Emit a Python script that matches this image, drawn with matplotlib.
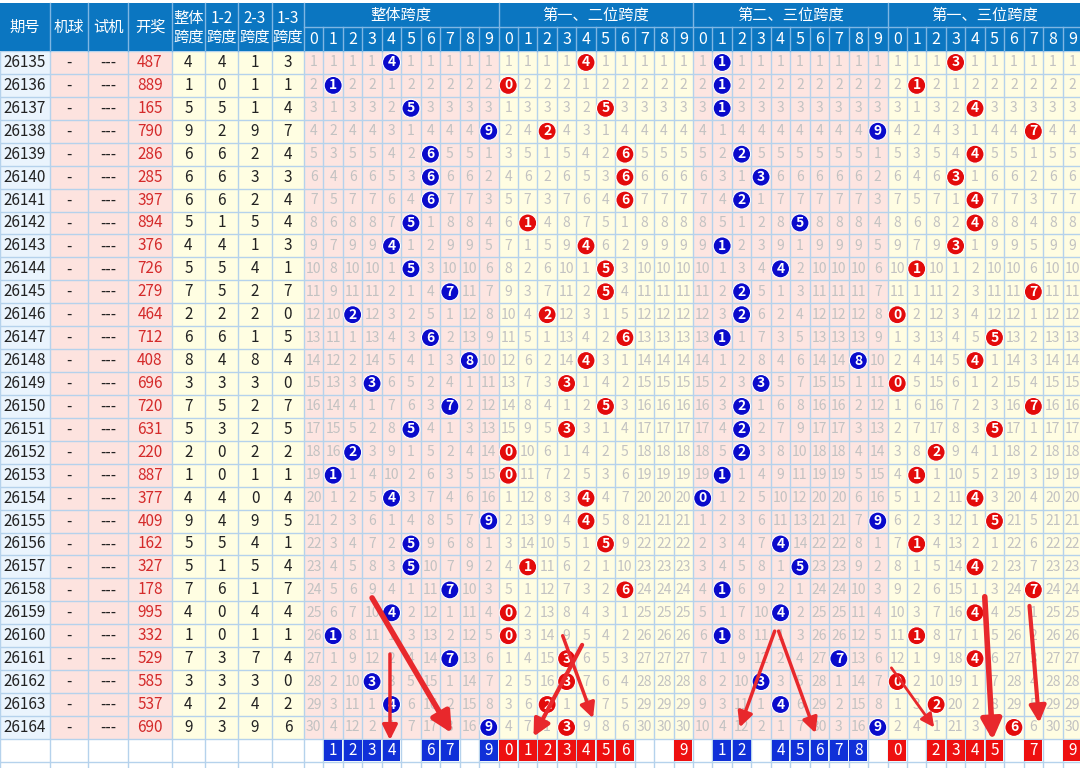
import numpy as np
import matplotlib
matplotlib.use('Agg')
import matplotlib.pyplot as plt
from matplotlib.patches import Rectangle, Circle

plt.rcParams['font.family'] = ['Noto Sans CJK SC', 'DejaVu Sans']

# ---- data ----
issues = list(range(26135, 26165))
draws = ['487', '889', '165', '790', '286', '285', '397', '894', '376', '726',
         '279', '464', '712', '408', '696', '720', '631', '220', '887', '377',
         '409', '162', '327', '178', '995', '332', '529', '585', '537', '690']
span_all = [4, 1, 5, 9, 6, 6, 6, 5, 4, 5, 7, 2, 6, 8, 3, 7, 5, 2, 1, 4, 9, 5, 5, 7, 4, 1, 7, 3, 4, 9]
span_12 = [4, 0, 5, 2, 6, 6, 6, 1, 4, 5, 5, 2, 6, 4, 3, 5, 3, 0, 0, 4, 4, 5, 1, 6, 0, 0, 3, 3, 2, 3]
span_23 = [1, 1, 1, 9, 2, 3, 2, 5, 1, 4, 2, 2, 1, 8, 3, 2, 2, 2, 1, 0, 9, 4, 5, 1, 4, 1, 7, 3, 4, 9]
span_13 = [3, 1, 4, 7, 4, 3, 4, 4, 3, 1, 7, 0, 5, 4, 0, 7, 5, 2, 1, 4, 5, 1, 4, 7, 4, 1, 4, 0, 2, 6]

picks_all = [1, 2, 3, 4, 6, 7, 9]
picks_12 = [0, 1, 2, 3, 4, 5, 6, 9]
picks_23 = [1, 2, 4, 5, 6, 7, 8]
picks_13 = [0, 2, 3, 4, 5, 7, 9]

group_titles = ['整体跨度', '第一、二位跨度', '第二、三位跨度', '第一、三位跨度']
left_headers = ['期号', '机球', '试机', '开奖', '整体\n跨度', '1-2\n跨度', '2-3\n跨度', '1-3\n跨度']

# hand drawn arrows: (grid col, row) start -> end, line width
arrows = [((4.42, 26.3), (4.42, 30.05), 2.5),
          ((3.5, 23.85), (7.6, 29.75), 4),
          ((14.3, 25.9), (11.8, 29.9), 3),
          ((13.3, 25.5), (14.86, 29.1), 2.5),
          ((24.2, 25.3), (22.4, 29.5), 2.5),
          ((24.4, 25.3), (26.3, 29.75), 2.5),
          ((30.2, 26.9), (32.4, 29.5), 2),
          ((35.0, 23.8), (35.4, 30.05), 4),
          ((37.3, 24.2), (37.8, 29.3), 3)]

# ---- layout ----
W, H = 1080, 768
col_edges = [0, 50, 88, 128, 172, 205, 238, 272, 304]
gx0, cw = 304, 19.45
top, mid, hdr, rh = 3, 27, 51, 22.93
n = len(issues)

header_blue = '#0b76c1'
grid_col = '#b5d2ec'
pink = '#fde5e1'
yellow = '#fffde2'
ball_cols = ['#0a0acb', '#e30b0b', '#0a0acb', '#e30b0b']
pick_cols = ['#1030d8', '#ee1010', '#1030d8', '#ee1010']

fig = plt.figure(figsize=(10.8, 7.68), dpi=100)
ax = fig.add_axes([0, 0, 1, 1])
ax.set_xlim(0, W)
ax.set_ylim(H, 0)
ax.axis('off')

def ry(i):
    return hdr + i * rh

# left column backgrounds
left_bg = ['#eaf4fd', '#fde3df', '#fde3df', '#fde3df', '#fffee2', '#fffee2', '#fffee2', '#fffee2']
for k, c in enumerate(left_bg):
    ax.add_patch(Rectangle((col_edges[k], hdr), col_edges[k + 1] - col_edges[k], n * rh,
                           facecolor=c, edgecolor='none'))
# group backgrounds
for g in range(4):
    ax.add_patch(Rectangle((gx0 + g * 10 * cw, hdr), 10 * cw, n * rh,
                           facecolor=[pink, yellow][g % 2], edgecolor='none'))

# grid lines
for i in range(n + 3):
    ax.plot([0, W], [ry(i), ry(i)], color=grid_col, lw=1, zorder=1)
vlines = col_edges + [gx0 + j * cw for j in range(1, 41)]
for x in vlines:
    ax.plot([x, x], [hdr, H], color=grid_col, lw=1, zorder=1)

# header
ax.add_patch(Rectangle((0, top), W, hdr - top, facecolor=header_blue, edgecolor='none', zorder=2))
for x in col_edges[1:]:
    ax.plot([x, x], [top, hdr], color='#7fb6e3', lw=1, zorder=3)
ax.plot([gx0, W], [mid, mid], color='#7fb6e3', lw=1, zorder=3)
for j in range(1, 41):
    x = gx0 + j * cw
    y0 = top if j % 10 == 0 else mid
    ax.plot([x, x], [y0, hdr], color='#7fb6e3', lw=1, zorder=3)
for k, t in enumerate(left_headers):
    xc = (col_edges[k] + col_edges[k + 1]) / 2
    ax.text(xc, (top + hdr) / 2 + 0.5, t, color='white', fontsize=11, ha='center', va='center',
            linespacing=1.15, zorder=4)
for g, t in enumerate(group_titles):
    ax.text(gx0 + (g * 10 + 5) * cw, (top + mid) / 2, t, color='white', fontsize=11,
            ha='center', va='center', zorder=4)
    for d in range(10):
        ax.text(gx0 + (g * 10 + d + 0.5) * cw, (mid + hdr) / 2, str(d), color='white',
                fontsize=11.5, ha='center', va='center', zorder=4)

# left columns text
for i in range(n):
    yc = ry(i) + rh / 2
    vals = [str(issues[i]), '-', '---', draws[i], span_all[i], span_12[i], span_23[i], span_13[i]]
    for k, v in enumerate(vals):
        xc = (col_edges[k] + col_edges[k + 1]) / 2
        color = '#d42a2a' if k == 3 else '#222222'
        ax.text(xc, yc, str(v), color=color, fontsize=11, ha='center', va='center', zorder=4)

# omission grid with balls
groups = [span_all, span_12, span_23, span_13]
for g, vals in enumerate(groups):
    miss = np.zeros(10, dtype=int)
    for i, v in enumerate(vals):
        yc = ry(i) + rh / 2
        for d in range(10):
            xc = gx0 + (g * 10 + d + 0.5) * cw
            if d == v:
                miss[d] = 0
                ax.add_patch(Circle((xc, yc), 9, facecolor=ball_cols[g], edgecolor='white',
                                    lw=0.8, zorder=5))
                ax.text(xc, yc, str(d), color='white', fontsize=10, fontweight='bold',
                        ha='center', va='center', zorder=6)
            else:
                miss[d] += 1
                ax.text(xc, yc, str(miss[d]), color='#c2c2c2', fontsize=10,
                        ha='center', va='center', zorder=4)

# bottom row picks
picks = [picks_all, picks_12, picks_23, picks_13]
yb = ry(n)
for g, p in enumerate(picks):
    for d in p:
        x = gx0 + (g * 10 + d) * cw
        ax.add_patch(Rectangle((x + 0.8, yb + 0.8), cw - 1.6, rh - 1.6,
                               facecolor=pick_cols[g], edgecolor='none', zorder=5))
        ax.text(x + cw / 2, yb + rh / 2, str(d), color='white', fontsize=11,
                ha='center', va='center', zorder=6)

# red arrows
for (c0, r0), (c1, r1), lw in arrows:
    ax.annotate('', xy=(gx0 + c1 * cw, ry(r1)), xytext=(gx0 + c0 * cw, ry(r0)),
                arrowprops=dict(arrowstyle='-|>', color='#e8282c', lw=lw,
                                mutation_scale=10 + lw * 5, shrinkA=0, shrinkB=0),
                zorder=8)

fig.savefig('out.png', dpi=100)
